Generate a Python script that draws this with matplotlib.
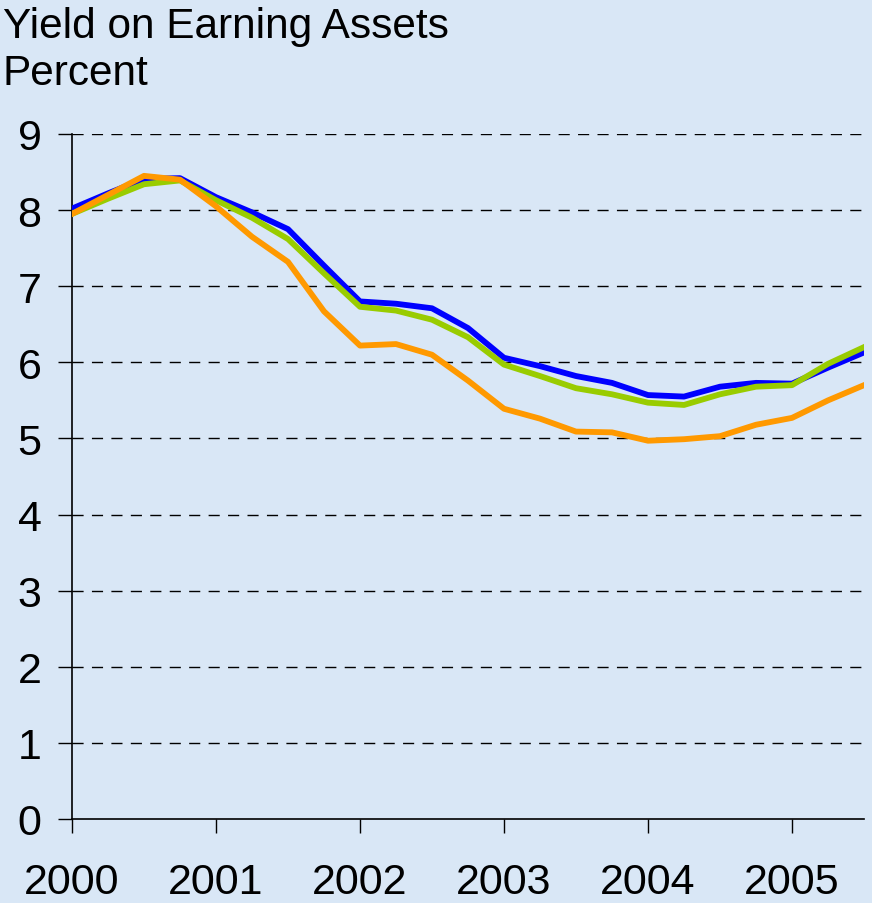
import matplotlib.pyplot as plt
import numpy as np

# quarterly observations, 2000Q1 .. 2005Q3
quarters = np.arange(23) / 4.0 + 2000
blue = [8.02, 8.22, 8.41, 8.42, 8.17, 7.97, 7.75, 7.27, 6.80, 6.77, 6.71, 6.45,
        6.06, 5.95, 5.82, 5.73, 5.57, 5.55, 5.68, 5.73, 5.72, 5.93, 6.13]
green = [7.95, 8.15, 8.34, 8.39, 8.13, 7.90, 7.62, 7.17, 6.73, 6.68, 6.56, 6.33,
         5.97, 5.82, 5.66, 5.58, 5.47, 5.44, 5.58, 5.68, 5.70, 5.98, 6.20]
orange = [7.95, 8.20, 8.45, 8.40, 8.05, 7.65, 7.32, 6.67, 6.22, 6.24, 6.10, 5.76,
          5.39, 5.26, 5.09, 5.08, 4.97, 4.99, 5.03, 5.18, 5.27, 5.50, 5.70]
years = [2000, 2001, 2002, 2003, 2004, 2005]
yticks = list(range(10))

plt.rcParams['font.family'] = ['Liberation Sans', 'DejaVu Sans']
bg = '#d9e7f6'

fig = plt.figure(figsize=(8.72, 9.04), dpi=100, facecolor=bg)
ax = fig.add_axes([72/872, 1 - 820/904, 792/872, 685/904])
ax.set_facecolor(bg)

for yv in yticks[1:]:
    ax.axhline(yv, color='black', lw=1, ls=(0, (8, 6)), zorder=1)

ax.plot(quarters, blue, color='#0000ff', lw=4.2, zorder=3)
ax.plot(quarters, green, color='#99cc00', lw=4.2, zorder=4)
ax.plot(quarters, orange, color='#ff9900', lw=4.2, zorder=5)

ax.set_xlim(2000, 2005.5)
ax.set_ylim(0, 9)
ax.set_xticks(years)
ax.set_xticklabels([str(y) for y in years])
ax.set_yticks(yticks)
ax.tick_params(axis='both', direction='out', length=10, width=1, labelsize=31, colors='black')
ax.tick_params(axis='x', pad=21)
ax.tick_params(axis='y', pad=12)
for s in ['top', 'right']:
    ax.spines[s].set_visible(False)
for s in ['left', 'bottom']:
    ax.spines[s].set_linewidth(1.2)

fig.text(3/872, 1 - 7/904, 'Yield on Earning Assets\nPercent', ha='left', va='top',
         fontsize=30.5, linespacing=1.24)

fig.savefig('out.png', dpi=100, facecolor=bg)
